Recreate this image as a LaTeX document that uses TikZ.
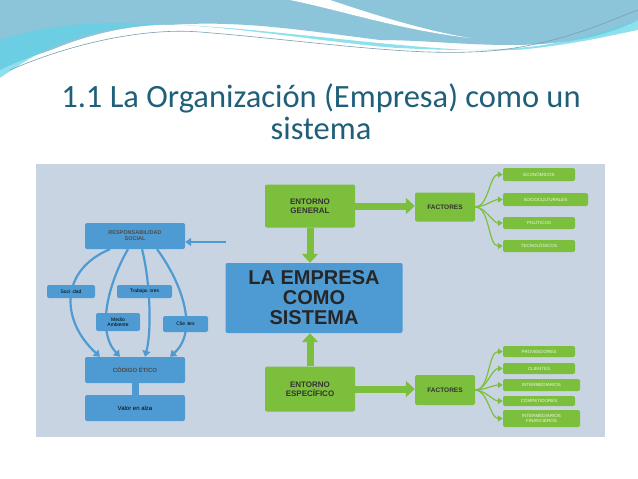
\documentclass[tikz,border=0pt]{standalone}
\usepackage{fontspec}
\setmainfont{Carlito}
\newfontfamily\dia{Liberation Sans}
\usetikzlibrary{arrows.meta,shapes.arrows}
\definecolor{ttl}{HTML}{1F5F7A}
\definecolor{panel}{HTML}{C9D4E2}
\definecolor{bl}{HTML}{4E9BD3}
\definecolor{gr}{HTML}{7CBF3C}
\definecolor{wave1}{HTML}{8CC4DA}
\definecolor{wave2}{HTML}{5FD3E6}
\begin{document}
\begin{tikzpicture}[x=1pt,y=-1pt,
 bbox/.style={fill=bl,rounded corners=2pt,font=\dia\fontsize{5}{5.5}\selectfont,align=center,inner sep=0pt},
 gbox/.style={fill=gr,rounded corners=2pt,font=\dia\fontsize{4.5}{5}\selectfont,text=white!90!gr,align=center,inner sep=0pt},
 barr/.style={draw=bl,line width=2.2pt,-{Triangle[length=6pt,width=8pt]}},
 garr/.style={draw=gr,line width=1.2pt,-{Triangle[length=5pt,width=6pt]}},
 thickg/.style={draw=gr,line width=7pt,-{Triangle[length=9pt,width=16pt]}}]
\useasboundingbox (0,0) rectangle (638,479);
\fill[white] (0,0) rectangle (638,479);
% waves
\fill[wave1] (0,0) -- (638,0) -- (638,20) .. controls (560,60) and (460,40) .. (380,40) .. controls (300,30) and (240,20) .. (170,25) .. controls (90,35) and (30,55) .. (0,70) -- cycle;
\fill[wave2,opacity=0.7] (0,40) .. controls (60,20) and (130,20) .. (190,28) .. controls (260,38) and (380,50) .. (470,50) .. controls (560,50) and (610,30) .. (638,20) -- (638,36) .. controls (600,45) and (540,52) .. (470,50) .. controls (380,46) and (260,28) .. (180,25) .. controls (100,22) and (40,45) .. (0,80) -- cycle;
\fill[white] (290,0) .. controls (340,10) and (400,30) .. (470,38) .. controls (420,30) and (360,10) .. (330,0) -- cycle;
\fill[white] (0,78) .. controls (40,50) and (110,22) .. (180,25) .. controls (270,30) and (380,52) .. (470,52) .. controls (540,52) and (600,38) .. (638,30) -- (638,479) -- (0,479) -- cycle;
\draw[ttl!60,line width=0.6pt] (10,70) .. controls (80,40) and (150,28) .. (200,32) .. controls (300,40) and (400,55) .. (470,52) .. controls (550,50) and (610,20) .. (638,10);
% title
\node[text=ttl,font=\fontsize{32.5}{32}\selectfont,align=center] (title) at (321,112) {1.1 La Organización (Empresa) como un\\sistema};
% panel
\node[fill=panel,draw=white,line width=1.5pt,minimum width=571pt,minimum height=275pt,inner sep=0pt] (panel) at (320.5,300.5) {};
% central
\node[bbox,minimum width=177pt,minimum height=70pt,font=\dia\bfseries\fontsize{20}{20}\selectfont,text=black!85] (emp) at (314,298) {LA EMPRESA\\COMO\\SISTEMA};
\node[gbox,minimum width=90pt,minimum height=43pt,font=\dia\bfseries\fontsize{8}{9}\selectfont,text=black!80] (eg) at (310,206) {ENTORNO\\GENERAL};
\node[gbox,minimum width=90pt,minimum height=45pt,font=\dia\bfseries\fontsize{8}{9}\selectfont,text=black!80] (ee) at (310,389) {ENTORNO\\ESPECÍFICO};
\node[gbox,minimum width=60pt,minimum height=29pt,font=\dia\bfseries\fontsize{6.5}{7}\selectfont,text=black!80] (f1) at (445,207) {FACTORES};
\node[gbox,minimum width=60pt,minimum height=30pt,font=\dia\bfseries\fontsize{6.5}{7}\selectfont,text=black!80] (f2) at (445,390) {FACTORES};
\draw[thickg] (eg.south) -- (eg.south |- emp.north);
\draw[thickg] (ee.north) -- (ee.north |- emp.south);
\draw[thickg] (eg.east) -- (eg.east -| f1.west);
\draw[thickg] (ee.east) -- (ee.east -| f2.west);
% factor leaves top
\node[gbox,minimum width=72pt,minimum height=13pt] (a1) at (539,174.5) {ECONÓMICOS};
\node[gbox,minimum width=85pt,minimum height=13pt] (a2) at (545.5,199.5) {SOCIOCULTURALES};
\node[gbox,minimum width=72pt,minimum height=12pt] (a3) at (539,223) {POLÍTICOS};
\node[gbox,minimum width=72pt,minimum height=12pt] (a4) at (539,246) {TECNOLÓGICOS};
\foreach \n in {a1,a2,a3,a4}{\draw[garr] (f1.east) to[out=0,in=180,looseness=0.8] (\n.west);}
% bottom leaves
\node[gbox,minimum width=72pt,minimum height=11pt] (b1) at (539,351.5) {PROVEEDORES};
\node[gbox,minimum width=72pt,minimum height=11pt] (b2) at (539,368.5) {CLIENTES};
\node[gbox,minimum width=77pt,minimum height=12pt] (b3) at (541.5,385) {INTERMEDIARIOS};
\node[gbox,minimum width=72pt,minimum height=10pt] (b4) at (539,401) {COMPETIDORES};
\node[gbox,minimum width=77pt,minimum height=17pt] (b5) at (541.5,418.5) {INTERMEDIARIOS\\FINANCIEROS};
\foreach \n in {b1,b2,b3,b4,b5}{\draw[garr] (f2.east) to[out=0,in=180,looseness=0.8] (\n.west);}
% left side
\node[bbox,minimum width=100pt,minimum height=26pt,font=\dia\bfseries\fontsize{5.5}{6}\selectfont,text=black!70] (rs) at (135,236) {RESPONSABILIDAD\\SOCIAL};
\coordinate (rsin) at (226,242);
\draw[barr] (rsin) -- (rs.east |- rsin);
\node[bbox,minimum width=48pt,minimum height=13pt] (soc) at (71,291.5) {Sociedad};
\node[bbox,minimum width=55pt,minimum height=13pt] (tra) at (144.5,291.5) {Trabajadores};
\node[bbox,minimum width=44pt,minimum height=18pt] (med) at (118,322) {Medio\\Ambiente};
\node[bbox,minimum width=45pt,minimum height=16pt] (cli) at (185.5,324) {Clientes};
\node[bbox,minimum width=100pt,minimum height=26pt,font=\dia\bfseries\fontsize{6}{6}\selectfont,text=black!70] (ce) at (135,370) {CÓDIGO ÉTICO};
\node[bbox,minimum width=100pt,minimum height=26pt,font=\dia\fontsize{6}{6}\selectfont] (va) at (135,408) {Valor en alza};
\draw[bl,line width=7pt] (ce.south) -- (va.north);
\draw[barr] ([xshift=-25pt]rs.south) .. controls (60,270) and (60,320) .. ([xshift=-35pt]ce.north);
\draw[barr] ([xshift=-7pt]rs.south) .. controls (110,280) and (95,330) .. ([xshift=-15pt]ce.north);
\draw[barr] ([xshift=7pt]rs.south) .. controls (150,280) and (152,330) .. ([xshift=10pt]ce.north);
\draw[barr] ([xshift=22pt]rs.south) .. controls (180,280) and (200,330) .. ([xshift=35pt]ce.north);
\end{tikzpicture}
\end{document}
